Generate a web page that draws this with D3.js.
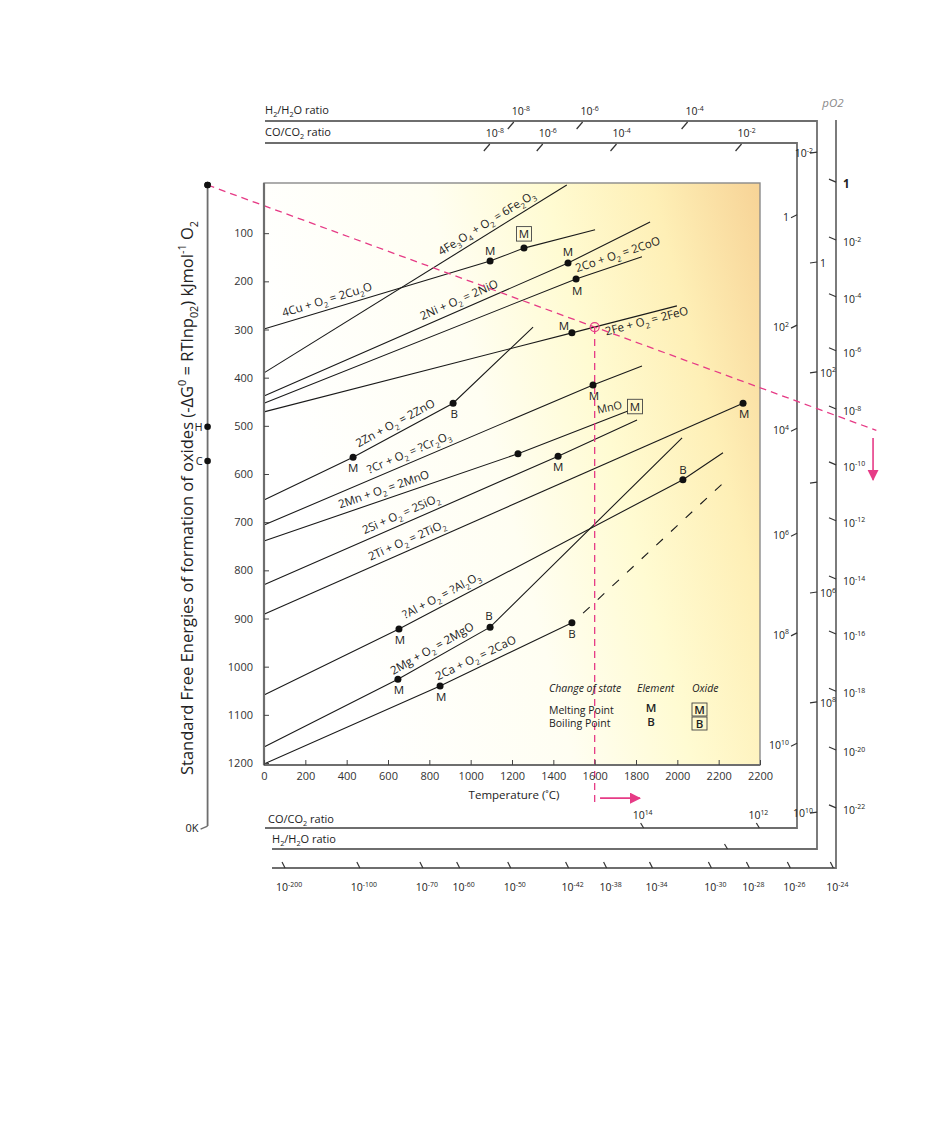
<!DOCTYPE html>
<html><head><meta charset="utf-8">
<script src="https://cdn.jsdelivr.net/npm/d3@7"></script>
<style>
body{margin:0;background:#fff}
svg{display:block}
text{font-family:"Open Sans","Noto Sans",sans-serif;white-space:pre;fill:#222}
</style>
</head><body>
<svg id="c" width="945" height="1123"></svg>
<script>
// ---------------- DATA ----------------
const temperatureTicks = [0,200,400,600,800,1000,1200,1400,1600,1800,2000,2200,2400];
const temperatureTickLabels = ["0","200","400","600","800","1000","1200","1400","1600","1800","2000","2200","2200"];
const energyTicks = [100,200,300,400,500,600,700,800,900,1000,1100,1200];

// reaction lines: [temperature °C, -ΔG kJ/mol O2]
const fe3o4Line = [[0,390],[1465,0]];
const cuLine    = [[0,299],[1094,158],[1258,131],[1602,93]];
const niLine    = [[0,438],[1471,162],[1868,77]];
const coLine    = [[0,453],[1510,195],[1829,149]];
const feLine    = [[0,471],[1490,307],[1998,251]];
const znLine    = [[0,654],[431,565],[915,453],[1302,295]];
const crLine    = [[0,706],[1592,415],[1829,376]];
const mnLine    = [[0,739],[1229,558],[1761,469]];
const siLine    = [[0,830],[1423,563],[1805,488]];
const tiLine    = [[0,891],[2318,453]];
const alLine    = [[0,1059],[653,922],[2027,612],[2221,556]];
const mgLine    = [[0,1167],[648,1026],[1094,918],[2023,525]];
const caLine    = [[0,1202],[852,1040],[1490,909]];
const caDashedLine = [[1544,889],[2216,621]];

const reactionLabels = ["4Fe_3O_4 + O_2 = 6Fe_2O_3","4Cu + O_2 = 2Cu_2O","2Ni + O_2 = 2NiO","2Co + O_2 = 2CoO",
  "2Fe + O_2 = 2FeO","2Zn + O_2 = 2ZnO","?Cr + O_2 = ?Cr_2O_3","2Mn + O_2 = 2MnO","2Si + O_2 = 2SiO_2",
  "2Ti + O_2 = 2TiO_2","?Al + O_2 = ?Al_2O_3","2Mg + O_2 = 2MgO","2Ca + O_2 = 2CaO"];
const reactionLabelTemps = [1103,319,963,1727,1843,658,721,595,682,711,881,837,1045];

// change-of-state points
const stateT      = [1094,1258,1471,1510,1490,431,915,1592,1229,1423,2318,653,2027,648,1094,852,1490];
const stateV      = [158,131,162,195,307,565,453,415,558,563,453,922,612,1026,918,1040,909];
const stateLabels = ["M","[M]","M","M","M","M","B","M","","M","M","M","B","M","B","M","B"];
const mnoNote = {T:1616, v:475, text:"MnO", box:"M"};

// left 0 K axis points
const zeroKelvinT = -273;
const leftAxisV = [0, 502, 573];
const leftAxisLabels = ["", "H", "C"];

// pink construction
const pinkTemp = 1600;
const pinkEndT = 2963;

// nomographic scales
const h2TopT = [1199,1532,2040];             const h2TopLabels = ["10^-8","10^-6","10^-4"];
const coTopT = [1083,1339,1696,2301];        const coTopLabels = ["10^-8","10^-6","10^-4","10^-2"];
const coRightV = [66,295,509,727,934,1163];  const coRightLabels = ["1","10^2","10^4","10^6","10^8","10^10"];
const h2RightV = [-66,162,390,619,847,1075,1304]; const h2RightLabels = ["10^-2","1","10^2","","10^6","10^8","10^10"];
const coBottomT = [1832,2392];               const coBottomLabels = ["10^14","10^12"];
const h2BottomT = [2238];
const pO2RightV = [-8,112,230,342,463,579,695,816,930,1049,1171,1291];
const pO2RightLabels = ["1","10^-2","10^-4","10^-6","10^-8","10^-10","10^-12","10^-14","10^-16","10^-18","10^-20","10^-22"];
const pO2BottomT = [97,459,764,942,1189,1469,1653,1875,2160,2344,2542,2750];
const pO2BottomLabels = ["10^-200","10^-100","10^-70","10^-60","10^-50","10^-42","10^-38","10^-34","10^-30","10^-28","10^-26","10^-24"];

// ---------------- DRAWING ----------------
const svg = d3.select("#c");
const x = d3.scaleLinear().domain([0,2400]).range([264,760]);
const y = d3.scaleLinear().domain([0,1200]).range([185,763]);
const PINK = "#e63b86", GRAY = "#6e6e6e";
const SCALE_FS = 10.5;

function rich(sel, str, size, supRatio){
  const sr = supRatio || 0.66;
  const segs=[]; let i=0;
  while(i<str.length){
    const c=str[i];
    if(c==='_'){segs.push({t:str[i+1],m:'sub'});i+=2;continue;}
    if(c==='^'){let j=i+1,s='';while(j<str.length&&str[j]!==' '){s+=str[j];j++;}segs.push({t:s,m:'sup'});i=j;continue;}
    if(segs.length&&segs[segs.length-1].m==='n')segs[segs.length-1].t+=c;else segs.push({t:c,m:'n'});
    i++;
  }
  let cur=0;
  sel.attr('font-size',size);
  segs.forEach(s=>{
    const target = s.m==='sub'? size*0.3 : s.m==='sup'? -size*0.42 : 0;
    const ts = sel.append('tspan').text(s.t).attr('dy',target-cur);
    if(s.m!=='n') ts.attr('font-size',size*sr);
    cur=target;
  });
  return sel;
}

const defs = svg.append("defs");
const grad = defs.append("linearGradient").attr("id","bg").attr("x1","0").attr("x2","1").attr("y1","0.3").attr("y2","0");
[[0,"#ffffff"],[0.38,"#fffef2"],[0.6,"#fffbd2"],[0.8,"#feefb6"],[1,"#f7d396"]].forEach(s=>grad.append("stop").attr("offset",s[0]).attr("stop-color",s[1]));
defs.append("marker").attr("id","ah").attr("viewBox","0 0 10 10").attr("refX",9).attr("refY",5)
  .attr("markerWidth",7).attr("markerHeight",7).attr("orient","auto")
  .append("path").attr("d","M0,0L10,5L0,10z").attr("fill",PINK);

// plot background
svg.append("rect").attr("x",264).attr("y",183).attr("width",496).attr("height",582)
  .attr("fill","url(#bg)").attr("stroke","#8a8a8a").attr("stroke-width",1.4);

// outer frames
const fr = svg.append("g").attr("fill","none").attr("stroke",GRAY).attr("stroke-width",1.8);
fr.append("path").attr("d","M265,121H817V849H272");
fr.append("path").attr("d","M265,143H797V828H265");
fr.append("path").attr("d","M836,120V868H272");

// frame labels
rich(svg.append("text").attr("x",265).attr("y",114),"H_2/H_2O ratio",11);
rich(svg.append("text").attr("x",265).attr("y",136),"CO/CO_2 ratio",11);
rich(svg.append("text").attr("x",268).attr("y",823),"CO/CO_2 ratio",11);
rich(svg.append("text").attr("x",272).attr("y",843),"H_2/H_2O ratio",11);
svg.append("text").attr("x",833).attr("y",107).attr("text-anchor","middle").attr("font-size",11.5)
  .attr("font-style","italic").style("fill","#888").text("pO2");

const tk = svg.append("g").attr("stroke","#333").attr("stroke-width",1.2).attr("fill","none");
// top ticks
h2TopT.forEach((t,i)=>{const px=x(t);
  tk.append("path").attr("d",`M${px-4},${129}L${px+2},${122}`);
  rich(svg.append("text").attr("x",px+9).attr("y",115).attr("text-anchor","middle"),h2TopLabels[i],SCALE_FS);});
coTopT.forEach((t,i)=>{const px=x(t);
  tk.append("path").attr("d",`M${px-4},${151}L${px+2},${144}`);
  rich(svg.append("text").attr("x",px+7).attr("y",137).attr("text-anchor","middle"),coTopLabels[i],SCALE_FS);});
// right CO ticks
coRightV.forEach((v,i)=>{const py=y(v);
  tk.append("path").attr("d",`M${791},${py+1}L${797},${py-2}`);
  rich(svg.append("text").attr("x",789).attr("y",py+4).attr("text-anchor","end"),coRightLabels[i],SCALE_FS);});
// right H2 ticks
h2RightV.forEach((v,i)=>{const py=y(v);
  tk.append("path").attr("d",`M${810},${py}L${817},${py-1}`);
  if(!h2RightLabels[i])return;
  const edge = (i===0||i===h2RightV.length-1);
  rich(svg.append("text").attr("x",edge?813:820).attr("y",py+4).attr("text-anchor",edge?"end":"start"),h2RightLabels[i],SCALE_FS);});
// pO2 ticks
pO2RightV.forEach((v,i)=>{const py=y(v);
  tk.append("path").attr("d",`M${829},${py-2}L${836},${py+1}`);
  rich(svg.append("text").attr("x",843).attr("y",py+7).attr("text-anchor","start"),pO2RightLabels[i],i===0?11.5:SCALE_FS)
    .attr("font-weight",i===0?700:400);});
// bottom ticks
coBottomT.forEach((t,i)=>{const px=x(t);
  tk.append("path").attr("d",`M${px-2},${823}L${px+1},${828}`);
  rich(svg.append("text").attr("x",px).attr("y",819).attr("text-anchor","middle"),coBottomLabels[i],SCALE_FS);});
h2BottomT.forEach(t=>{const px=x(t); tk.append("path").attr("d",`M${px-2},${844}L${px+1},${849}`);});
pO2BottomT.forEach((t,i)=>{const px=x(t);
  tk.append("path").attr("d",`M${px-2},${862}L${px+1},${868}`);
  rich(svg.append("text").attr("x",px+5).attr("y",891).attr("text-anchor","middle"),pO2BottomLabels[i],SCALE_FS);});

// left 0K axis
const xk = x(zeroKelvinT);
svg.append("line").attr("x1",xk).attr("x2",xk).attr("y1",y(0)).attr("y2",y(1331)).attr("stroke",GRAY).attr("stroke-width",1.8);
svg.append("path").attr("d",`M${xk},${y(1331)}L${xk-7},${y(1331)+3}`).attr("stroke",GRAY).attr("stroke-width",1.4).attr("fill","none");
svg.append("text").attr("x",xk-9).attr("y",y(1331)+6).attr("text-anchor","end").attr("font-size",11).text("0K");
leftAxisV.forEach((v,i)=>{
  svg.append("circle").attr("cx",xk).attr("cy",y(v)).attr("r",3.3).attr("fill","#111");
  if(leftAxisLabels[i]) svg.append("text").attr("x",xk-5).attr("y",y(v)+4).attr("text-anchor","end").attr("font-size",11).text(leftAxisLabels[i]);
});

// y title
rich(svg.append("text").attr("transform","translate(193,498) rotate(-90)").attr("text-anchor","middle"),
  "Standard Free Energies of formation of oxides (-ΔG^0 = RTlnp_0_2) kJmol^-1 O_2",16.5);

// reaction lines
const allLines = [fe3o4Line,cuLine,niLine,coLine,feLine,znLine,crLine,mnLine,siLine,tiLine,alLine,mgLine,caLine];
const lineGen = d3.line().x(d=>x(d[0])).y(d=>y(d[1]));
const lg = svg.append("g").attr("fill","none").attr("stroke","#1a1a1a").attr("stroke-width",1.1);
allLines.forEach(l=>lg.append("path").attr("d",lineGen(l)));
lg.append("path").attr("d",lineGen(caDashedLine)).attr("stroke-dasharray","9,11");

function at(pts,T){
  for(let i=0;i<pts.length-1;i++){
    const a=pts[i],b=pts[i+1];
    if(T>=a[0]&&T<=b[0]){const f=(T-a[0])/(b[0]-a[0]);
      return {v:a[1]+f*(b[1]-a[1]),ang:Math.atan2(y(b[1])-y(a[1]),x(b[0])-x(a[0]))*180/Math.PI};}
  }
  return null;
}
// reaction labels
allLines.forEach((l,i)=>{
  const p=at(l,reactionLabelTemps[i]);
  const below = reactionLabels[i]==="2Fe + O_2 = 2FeO";
  const g=svg.append("g").attr("transform",`translate(${x(reactionLabelTemps[i])},${y(p.v)}) rotate(${p.ang})`);
  rich(g.append("text").attr("x",0).attr("y",below?11:-6).attr("text-anchor","middle"),reactionLabels[i],11.5);
});

// pink construction
const pv = at(feLine,pinkTemp).v;
const slope = pv/(pinkTemp-zeroKelvinT);
const pg = svg.append("g").attr("fill","none").attr("stroke",PINK).attr("stroke-width",1.3);
pg.append("line").attr("x1",x(zeroKelvinT)).attr("y1",y(0)).attr("x2",x(pinkEndT)).attr("y2",y(slope*(pinkEndT-zeroKelvinT))).attr("stroke-dasharray","7,5");
pg.append("line").attr("x1",x(pinkTemp)).attr("y1",y(pv)).attr("x2",x(pinkTemp)).attr("y2",y(1287)).attr("stroke-dasharray","7,5");
pg.append("circle").attr("cx",x(pinkTemp)).attr("cy",y(pv)).attr("r",4.5).attr("stroke-width",1.2);
pg.append("line").attr("x1",x(1626)).attr("y1",y(1273)).attr("x2",x(1819)).attr("y2",y(1273)).attr("stroke-width",1.6).attr("marker-end","url(#ah)");
pg.append("line").attr("x1",x(2947)).attr("y1",y(525)).attr("x2",x(2947)).attr("y2",y(612)).attr("stroke-width",1.6).attr("marker-end","url(#ah)");
svg.append("circle").attr("cx",x(zeroKelvinT)).attr("cy",y(0)).attr("r",3.3).attr("fill","#111");

// change-of-state markers
const labelOffsets = [[0,-6],[0,-10],[0,-7],[1,16],[-8,-3],[0,15],[1,15],[1,15],null,[0,15],[1,15],[1,15],[0,-6],[1,15],[-1,-7],[1,15],[0,15]];
function boxed(cx,cyBase,txt){
  svg.append("rect").attr("x",cx-7.5).attr("y",cyBase-11.5).attr("width",15).attr("height",14.5)
    .attr("fill","none").attr("stroke","#444").attr("stroke-width",0.9);
  svg.append("text").attr("x",cx).attr("y",cyBase).attr("text-anchor","middle").attr("font-size",11.5).text(txt);
}
stateT.forEach((t,i)=>{
  const cx=x(t), cy=y(stateV[i]);
  svg.append("circle").attr("cx",cx).attr("cy",cy).attr("r",3.5).attr("fill","#111");
  const lab=stateLabels[i]; if(!lab)return;
  const o=labelOffsets[i];
  if(lab.startsWith("[")) boxed(cx+o[0],cy+o[1],lab.slice(1,-1));
  else svg.append("text").attr("x",cx+o[0]).attr("y",cy+o[1]).attr("text-anchor","middle").attr("font-size",11.5).text(lab);
});
// MnO note
svg.append("text").attr("transform",`translate(${x(mnoNote.T)},${y(mnoNote.v)}) rotate(-12)`).attr("font-size",11).text(mnoNote.text);
boxed(x(mnoNote.T)+37,y(mnoNote.v)-3,mnoNote.box);

// axes
const yAxis = svg.append("g").attr("transform","translate(264,0)")
  .call(d3.axisLeft(y).tickValues(energyTicks).tickFormat(d3.format("d")).tickSize(-5).tickSizeOuter(0).tickPadding(11));
const xAxis = svg.append("g").attr("transform","translate(0,765)")
  .call(d3.axisBottom(x).tickValues(temperatureTicks).tickFormat((d,i)=>temperatureTickLabels[i]).tickSize(-5).tickSizeOuter(0).tickPadding(7));
[yAxis,xAxis].forEach(a=>{
  a.select(".domain").attr("stroke",GRAY).attr("stroke-width",2.2);
  a.selectAll(".tick line").attr("stroke","#444").attr("stroke-width",1);
  a.selectAll(".tick text").attr("font-size",11).style("fill","#333").attr("font-family",'"Open Sans",sans-serif');
});
yAxis.select(".domain").attr("d","M0,183V765");
xAxis.select(".domain").attr("d","M264,0H760");
svg.append("text").attr("x",514).attr("y",799).attr("text-anchor","middle").attr("font-size",11.5).text("Temperature (˚C)");

// legend
const lgd = svg.append("g").attr("font-size",10.5);
lgd.append("text").attr("x",549).attr("y",692).attr("font-style","italic").text("Change of state");
lgd.append("text").attr("x",637).attr("y",692).attr("font-style","italic").text("Element");
lgd.append("text").attr("x",692).attr("y",692).attr("font-style","italic").text("Oxide");
lgd.append("text").attr("x",549).attr("y",714).text("Melting Point");
lgd.append("text").attr("x",549).attr("y",727).text("Boiling Point");
lgd.append("text").attr("x",651).attr("y",712).attr("text-anchor","middle").attr("font-weight",600).attr("font-size",11.5).text("M");
lgd.append("text").attr("x",651).attr("y",726).attr("text-anchor","middle").attr("font-weight",600).attr("font-size",11.5).text("B");
[["M",703],["B",717]].forEach(([t,yy])=>{
  svg.append("rect").attr("x",692).attr("y",yy).attr("width",15).attr("height",13).attr("fill","none").attr("stroke","#444").attr("stroke-width",0.9);
  svg.append("text").attr("x",699.5).attr("y",yy+11).attr("text-anchor","middle").attr("font-size",11.5).attr("font-weight",600).text(t);
});
</script>
</body></html>
